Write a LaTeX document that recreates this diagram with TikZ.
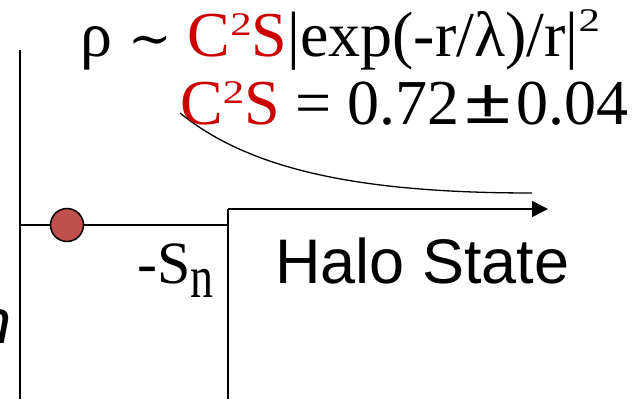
\documentclass[tikz,border=0pt]{standalone}
\usepackage{fontspec}
\usepackage{graphicx}
\setmainfont{Liberation Serif}
\newfontfamily\sansf{Liberation Sans}
\newfontfamily\dvser{DejaVu Serif}
\usetikzlibrary{arrows.meta}
\definecolor{redtxt}{RGB}{204,0,0}
\definecolor{dotred}{RGB}{192,80,77}
\newcommand{\supA}{\raisebox{21pt}{\fontsize{33}{33}\selectfont\scalebox{1.3}[1]{2}}}
\newcommand{\supB}{\raisebox{25pt}{\fontsize{33}{33}\selectfont\scalebox{1.3}[1]{2}}}
\tikzset{
  big/.style={inner sep=0pt, font=\fontsize{64}{64}\selectfont},
  sanslabel/.style={inner sep=0pt, font=\sansf\fontsize{63}{63}\selectfont},
  axisline/.style={line width=2pt},
  thinline/.style={line width=1.5pt}
}
\begin{document}
\begin{tikzpicture}[x=1pt,y=1pt]
\useasboundingbox (0,0) rectangle (644,399);
\clip (0,0) rectangle (644,399);
% coordinates
\coordinate (axtop) at (20,349);
\coordinate (axbot) at (20,0);
\coordinate (lvlL) at (20,174);
\coordinate (lvlR) at (228,174);
\coordinate (stepB) at (228,0);
\coordinate (stepT) at (228,190);
\coordinate (arrEnd) at (548,190);
\coordinate (curS) at (180,286);
\coordinate (curE) at (532,206);
% lines
\draw[axisline] (axtop) -- (axbot);
\draw[thinline] (lvlL) -- (lvlR);
\draw[thinline] (stepB) -- (stepT);
\draw[thinline, -{Triangle[length=16pt,width=16pt]}] (stepT) -- (arrEnd);
\draw[line width=1.3pt] (curS) .. controls (250,229) and (360,206) .. (curE);
% dot
\node[circle, draw=black, line width=1.5pt, fill=dotred, minimum size=33pt, inner sep=0pt] (dot) at (67,174) {};
% texts
\node[big, anchor=base west] (line1) at (80,342) {ρ {\dvser\fontsize{52}{52}\selectfont ∼} \textcolor{redtxt}{C\supA S}|exp(-r/λ)/r|\supB};
\node[big, anchor=base west] (line2a) at (180,274) {\textcolor{redtxt}{C\supA S}};
\node[big, anchor=base west] (line2b) at (295,274) {= 0.72\hspace{5pt}\raisebox{1pt}{\scalebox{1.35}[1.05]{\textbf{±}}}\hspace{5pt}0.04};
\node[inner sep=0pt, anchor=base west, font=\fontsize{60}{60}\selectfont] (sn) at (137,116) {-S\raisebox{-14pt}{\fontsize{46}{46}\selectfont\scalebox{1}[1.3]{n}}};
\node[sanslabel, anchor=base west] (halo) at (275,116) {Halo State};
\node[sanslabel, anchor=base east, font=\sansf\itshape\fontsize{63}{63}\selectfont] (eta) at (12,56) {n};
\end{tikzpicture}
\end{document}
